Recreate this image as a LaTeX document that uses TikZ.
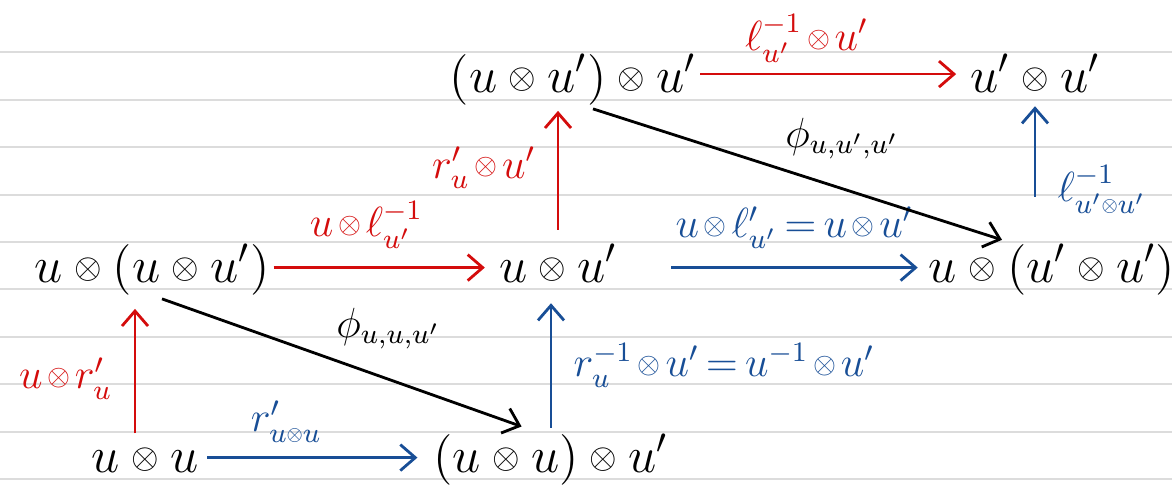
\documentclass[tikz,border=0pt]{standalone}
\usepackage{amsmath,amssymb}
\usepackage{xcolor}
\usepackage{tikz}
\usetikzlibrary{positioning, arrows.meta, calc}

\definecolor{inkred}{RGB}{212,12,12}
\definecolor{inkblue}{RGB}{24,78,150}
\definecolor{ruleline}{RGB}{220,220,220}

% small tensor sign, like the handwritten one
\newcommand{\smot}[1]{\vcenter{\hbox{\scalebox{0.7}{$#1\otimes$}}}}
\newcommand{\otm}{\mathbin{\mathchoice{\smot\displaystyle}{\smot\textstyle}{\smot\scriptstyle}{\smot\scriptscriptstyle}}}
\newcommand{\tightmath}{\medmuskip=2mu\thickmuskip=3mu}

\begin{document}
\begin{tikzpicture}[
        >={Straight Barb[length=1.5mm,width=2.6mm]},
        obj/.style={anchor=base, inner sep=1pt, font=\fontsize{14}{16}\selectfont},
        lbl/.style={inner sep=2pt, font=\fontsize{12}{14}\selectfont\tightmath},
        redarr/.style={->, draw=inkred, line width=0.8pt},
        bluearr/.style={->, draw=inkblue, line width=0.8pt},
        blkarr/.style={->, draw=black, line width=0.8pt}
    ]

    % --- Ruled paper ---
    \useasboundingbox (0,0) rectangle (11.72,-4.9);
    \foreach \y in {0.52,1.00,1.47,1.95,2.42,2.89,3.37,3.84,4.32,4.79}
        \draw[ruleline, line width=0.6pt] (0,-\y) -- (11.72,-\y);

    % --- Top row ---
    \node[obj] (ddu) at (5.73,-0.92) {$(u\otm u')\otm u'$};
    \node[obj] (dpu) at (10.35,-0.92) {$u'\otm u'$};

    % --- Middle row ---
    \node[obj] (udd) at (1.52,-2.82) {$u\otm(u\otm u')$};
    \node[obj] (uup) at (5.58,-2.82) {$u\otm u'$};
    \node[obj] (upp) at (10.52,-2.82) {$u\otm(u'\otm u')$};

    % --- Bottom row ---
    \node[obj] (uu) at (1.45,-4.72) {$u\otm u$};
    \node[obj] (uuu) at (5.51,-4.72) {$(u\otm u)\otm u'$};

    % --- Red arrows ---
    \draw[redarr, shorten >=0.1cm] ([yshift=1.5pt]ddu.east) -- node[lbl, above=1pt, pos=0.4, text=inkred] {$\ell^{-1}_{u'}\otm u'$} ([yshift=1.5pt]ddu.east -| dpu.west);
    \draw[redarr, shorten <=0.1cm, shorten >=0.02cm] (uup.north) -- node[lbl, left=4pt, pos=0.55, text=inkred] {$r'_u\otm u'$} (uup.north |- ddu.south);
    \draw[redarr, shorten >=0.1cm] ([yshift=0.5pt]udd.east) -- node[lbl, above=3pt, pos=0.42, text=inkred] {$u\otm \ell^{-1}_{u'}$} ([yshift=0.5pt]udd.east -| uup.west);
    \draw[redarr, shorten <=0.1cm, shorten >=0.1cm] ([xshift=-0.1cm]uu.north) -- node[lbl, left=4pt, pos=0.45, text=inkred] {$u\otm r'_u$} ([xshift=-0.1cm]uu.north |- udd.south);

    % --- Blue arrows ---
    \draw[bluearr, shorten <=0.43cm, shorten >=0.1cm] (dpu.south |- upp.north) -- node[lbl, right=4pt, pos=0.35, text=inkblue] {$\ell^{-1}_{u'\otm u'}$} (dpu.south);
    \draw[bluearr, shorten <=0.5cm, shorten >=0.07cm] ([yshift=0.5pt]udd.east -| uup.east) -- node[lbl, above=3pt, pos=0.57, text=inkblue] {$u\otm \ell'_{u'}=u\otm u'$} ([yshift=0.5pt]upp.west);
    \draw[bluearr, shorten <=0.02cm, shorten >=0.17cm] (uuu.north) -- node[lbl, right=4pt, pos=0.45, text=inkblue] {$r^{-1}_u\otm u'=u^{-1}\otm u'$} (uuu.north |- uup.south);
    \draw[bluearr, shorten <=0.05cm, shorten >=0.12cm] ([yshift=0.5pt]uuu.west -| uu.east) -- node[lbl, above=2pt, pos=0.37, text=inkblue] {$r'_{u\otm u}$} ([yshift=0.5pt]uuu.west);

    % --- Associators ---
    \draw[blkarr] ([xshift=0.2cm]ddu.south) -- node[lbl, above right, pos=0.45] {$\phi_{u,u',u'}$} ([xshift=-0.5cm]upp.north);
    \draw[blkarr, shorten >=0.1cm] ([xshift=0.1cm]udd.south) -- node[lbl, above right, pos=0.45] {$\phi_{u,u,u'}$} ([xshift=-0.2cm]uuu.north);

\end{tikzpicture}
\end{document}
